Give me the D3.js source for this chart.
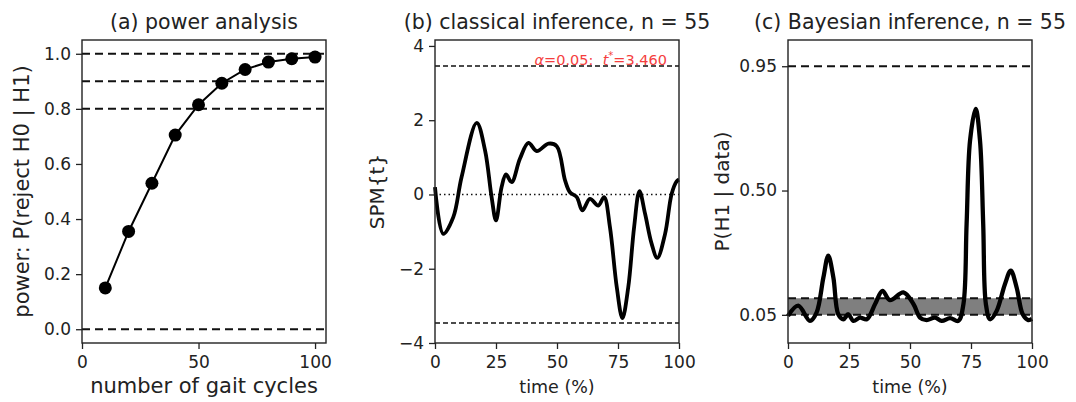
<!DOCTYPE html>
<html>
<head>
<meta charset="utf-8">
<script src="https://cdn.jsdelivr.net/npm/d3@7"></script>
<style>
  body { margin: 0; background: white; }
  text { font-family: "DejaVu Sans", sans-serif; fill: #222; }
</style>
</head>
<body>
<svg id="chart" width="1076" height="402"></svg>
<script>
// (a) power analysis
let gait_cycles = [10, 20, 30, 40, 50, 60, 70, 80, 90, 100];
let power_vals = [0.15, 0.355, 0.53, 0.705, 0.815, 0.893, 0.943, 0.97, 0.982, 0.988];
let power_refs = [0.0, 0.8, 0.9, 1.0];
let a_xticks = [0, 50, 100];
let a_yticks = [0.0, 0.2, 0.4, 0.6, 0.8, 1.0];

// (b) classical inference
let time_b = [0, 3.4, 7.5, 10.9, 17.1, 20.5, 23.2, 25, 27.3, 29.1, 31.4, 34.8, 38.3, 41.7,
  46.5, 49.9, 53.3, 55.3, 58.1, 60.4, 63.5, 66.9, 69.3, 71.7, 74.5, 76.8, 79.2, 81.6,
  83.8, 86.1, 88.8, 91.1, 94.3, 97, 99.1, 100];
let spm_t = [0.2, -1.06, -0.61, 0.47, 1.93, 1.19, -0.07, -0.7, 0.2, 0.54, 0.33, 0.96, 1.39, 1.17,
  1.37, 1.3, 0.38, 0.06, -0.07, -0.43, -0.12, -0.3, -0.07, -0.88, -2.5, -3.33, -2.5, -0.88,
  0.09, -0.52, -1.33, -1.71, -1.06, 0.02, 0.36, 0.4];
let t_crit = 3.46;
let b_xticks = [0, 25, 50, 75, 100];
let b_yticks = [-4, -2, 0, 2, 4];

// (c) Bayesian inference
let time_c = [0, 4.2, 9, 11.7, 14.5, 16.5, 18.6, 20.6, 22.7, 24.7, 26.8, 29.5, 32.3, 35.7,
  38.7, 41.8, 47.3, 51.4, 54.1, 56.8, 60.2, 63, 66.4, 69.8, 71.9, 73.2, 74.6, 76.9, 78.7,
  80, 81.1, 82.8, 85.5, 88.9, 91.3, 93.7, 96.2, 98.5, 100];
let p_h1 = [0.046, 0.083, 0.028, 0.058, 0.185, 0.264, 0.185, 0.052, 0.034, 0.052, 0.028, 0.04,
  0.034, 0.089, 0.137, 0.103, 0.131, 0.089, 0.04, 0.031, 0.04, 0.028, 0.038, 0.028, 0.089,
  0.379, 0.68, 0.796, 0.68, 0.379, 0.089, 0.034, 0.064, 0.161, 0.21, 0.149, 0.052, 0.031, 0.035];
let p_band = [0.05, 0.11];
let p_crit = 0.95;
let c_xticks = [0, 25, 50, 75, 100];
let c_yticks = [0.05, 0.50, 0.95];

let svg = d3.select('#chart');

function make_panel(box, xdom, ydom, xticks, yticks, yfmt) {
  let g = svg.append('g');
  let x = d3.scaleLinear().domain(xdom).range([box.left, box.right]);
  let y = d3.scaleLinear().domain(ydom).range([box.bottom, box.top]);

  g.append('g')
    .attr('transform', 'translate(0,' + box.bottom + ')')
    .call(d3.axisBottom(x).tickValues(xticks).tickSize(6).tickPadding(7).tickFormat(d3.format('d')));
  g.append('g')
    .attr('transform', 'translate(' + box.left + ',0)')
    .call(d3.axisLeft(y).tickValues(yticks).tickSize(6).tickPadding(5).tickFormat(yfmt));

  g.selectAll('.domain').remove();
  g.selectAll('.tick line').attr('stroke', '#222').attr('stroke-width', 1.3);
  g.selectAll('.tick text').style('font-size', '17px').attr('fill', '#222')
    .style('font-family', '"DejaVu Sans", sans-serif');

  return { g: g, x: x, y: y, box: box };
}

function frame(p) {
  let b = p.box;
  p.g.append('rect')
    .attr('x', b.left).attr('y', b.top)
    .attr('width', b.right - b.left).attr('height', b.bottom - b.top)
    .style('fill', 'none').style('stroke', '#222').style('stroke-width', 1.4);
}

function hline(p, v, width, dash) {
  p.g.append('line')
    .attr('x1', p.box.left).attr('x2', p.box.right)
    .attr('y1', p.y(v)).attr('y2', p.y(v))
    .style('stroke', '#111').style('stroke-width', width)
    .style('stroke-dasharray', dash);
}

function labels(p, title, xlab, ylab, xsize, ysize, ylab_x) {
  let b = p.box;
  let cx = (b.left + b.right) / 2;
  p.g.append('text').attr('x', cx).attr('y', 29)
    .attr('text-anchor', 'middle').style('font-size', '20.5px').text(title);
  p.g.append('text').attr('x', cx).attr('y', 393)
    .attr('text-anchor', 'middle').style('font-size', xsize).text(xlab);
  p.g.append('text')
    .attr('transform', 'translate(' + ylab_x + ',' + ((b.top + b.bottom) / 2) + ') rotate(-90)')
    .attr('text-anchor', 'middle').style('font-size', ysize).text(ylab);
}

/*
 * Panel (a)
 */
let pa = make_panel({ left: 82, right: 326, top: 40, bottom: 343 }, [0, 104.7], [-0.05, 1.05],
  a_xticks, a_yticks, d3.format('.1f'));
power_refs.forEach(v => hline(pa, v, 2, '8,5'));
pa.g.append('path')
  .datum(gait_cycles.map((n, i) => [n, power_vals[i]]))
  .attr('d', d3.line().x(d => pa.x(d[0])).y(d => pa.y(d[1])))
  .style('fill', 'none').style('stroke', '#000').style('stroke-width', 2);
pa.g.selectAll('circle')
  .data(gait_cycles)
  .enter().append('circle')
  .attr('cx', d => pa.x(d))
  .attr('cy', (d, i) => pa.y(power_vals[i]))
  .attr('r', 6.5)
  .style('fill', '#000');
frame(pa);
labels(pa, '(a) power analysis', 'number of gait cycles', 'power: P(reject H0 | H1)', '21px', '21px', 29);

/*
 * Panel (b)
 */
let pb = make_panel({ left: 435, right: 679, top: 40, bottom: 343 }, [0, 100], [-4, 4.16],
  b_xticks, b_yticks, d3.format('d'));
pb.g.selectAll('.tick text').text(d => (d < 0 ? '\u2212' + Math.abs(d) : d));
hline(pb, 0, 1.5, '1.5,3');
hline(pb, t_crit, 1.6, '5,3');
hline(pb, -t_crit, 1.6, '5,3');
pb.g.append('path')
  .datum(time_b.map((t, i) => [t, spm_t[i]]))
  .attr('d', d3.line().curve(d3.curveCatmullRom.alpha(0.5)).x(d => pb.x(d[0])).y(d => pb.y(d[1])))
  .style('fill', 'none').style('stroke', '#000').style('stroke-width', 3.8)
  .style('stroke-linejoin', 'round');
let crit_txt = pb.g.append('text')
  .attr('x', 667).attr('y', 65)
  .attr('text-anchor', 'end')
  .style('font-size', '14.5px');
crit_txt.append('tspan').style('font-style', 'italic').attr('fill', '#f53e3e').text('\u03b1');
crit_txt.append('tspan').attr('fill', '#f53e3e').text('=0.05:\u00a0\u00a0');
crit_txt.append('tspan').style('font-style', 'italic').attr('fill', '#f53e3e').text('t');
crit_txt.append('tspan').attr('fill', '#f53e3e').attr('dy', -6).style('font-size', '10px').text('*');
crit_txt.append('tspan').attr('fill', '#f53e3e').attr('dy', 6).text('=3.460');
frame(pb);
labels(pb, '(b) classical inference, n = 55', 'time (%)', 'SPM{t}', '17.5px', '20px', 384);

/*
 * Panel (c)
 */
let pc = make_panel({ left: 788, right: 1032, top: 40, bottom: 343 }, [0, 100], [-0.052, 1.045],
  c_xticks, c_yticks, d3.format('.2f'));
pc.g.append('rect')
  .attr('x', pc.box.left).attr('y', pc.y(p_band[1]))
  .attr('width', pc.box.right - pc.box.left)
  .attr('height', pc.y(p_band[0]) - pc.y(p_band[1]))
  .style('fill', '#7f7f7f');
hline(pc, p_band[0], 2, '8,5');
hline(pc, p_band[1], 2, '8,5');
hline(pc, p_crit, 2, '8,5');
pc.g.append('path')
  .datum(time_c.map((t, i) => [t, p_h1[i]]))
  .attr('d', d3.line().curve(d3.curveCatmullRom.alpha(0.5)).x(d => pc.x(d[0])).y(d => pc.y(d[1])))
  .style('fill', 'none').style('stroke', '#000').style('stroke-width', 4.3)
  .style('stroke-linejoin', 'round');
frame(pc);
labels(pc, '(c) Bayesian inference, n = 55', 'time (%)', 'P(H1 | data)', '17.5px', '20px', 729);
</script>
</body>
</html>
